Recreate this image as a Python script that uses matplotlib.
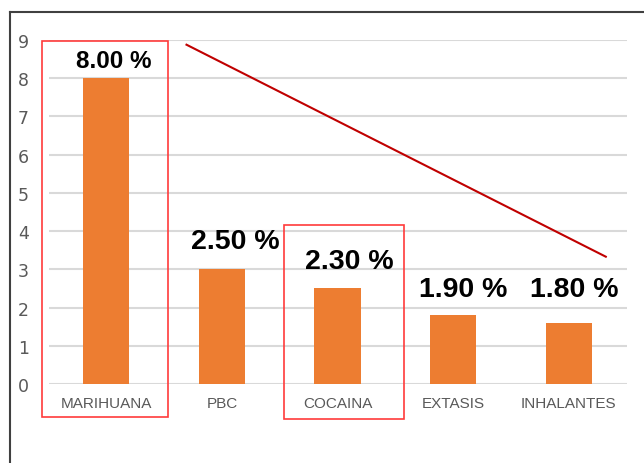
import matplotlib
matplotlib.use("Agg")
import matplotlib.pyplot as plt
from matplotlib.patches import Rectangle
from matplotlib.lines import Line2D

categories = ["MARIHUANA", "PBC", "COCAINA", "EXTASIS", "INHALANTES"]
bar_heights = [8.0, 3.0, 2.5, 1.8, 1.6]
label_texts = ["8.00 %", "2.50 %", "2.30 %", "1.90 %", "1.80 %"]
yticks = list(range(0, 10))

W, H = 644, 464
fig = plt.figure(figsize=(W / 100, H / 100), dpi=100)
fig.patch.set_facecolor("white")

def fx(px):
    return px / W

def fy(py):
    return 1 - py / H

ax = fig.add_axes([fx(48.5), fy(385), fx(626.5) - fx(48.5), fy(41) - fy(385)])
x = list(range(len(categories)))
ax.bar(x, bar_heights, width=0.4, color="#ED7D31", zorder=3)
ax.set_xlim(-0.5, len(categories) - 0.5)
ax.set_ylim(0, 9)
ax.set_yticks(yticks)
ax.set_yticklabels([str(t) for t in yticks], fontsize=12.5, color="#595959", family="DejaVu Sans")
ax.set_xticks(x)
ax.set_xticklabels(categories, fontsize=11, color="#595959", family="Liberation Sans")
ax.tick_params(axis="both", length=0)
ax.tick_params(axis="y", pad=14)
ax.tick_params(axis="x", pad=9)
ax.grid(axis="y", color="#D9D9D9", linewidth=1.5, zorder=0)
for s in ax.spines.values():
    s.set_visible(False)

# value labels (positioned as in reference)
label_pos = [(113.5, 61.7, 17.5),
             (235, 241.7, 20.5),
             (349, 261.7, 20.5),
             (463, 290, 20.5),
             (574, 290, 20.5)]
for t, (px, py, fs) in zip(label_texts, label_pos):
    fig.text(fx(px), fy(py), t, ha="center", va="center", fontsize=fs,
             fontweight="bold", color="black", family=["Liberation Sans", "DejaVu Sans"])

# frame
fig.add_artist(Line2D([fx(9.5), 1.0], [fy(13), fy(13)], color="#404040", lw=1.5))
fig.add_artist(Line2D([fx(9.5), fx(9.5)], [fy(13), 0], color="#404040", lw=1.5))

# red boxes
for (x0, y0, x1, y1) in [(41.5, 41.7, 167.5, 417.7), (284, 225.7, 403.7, 420)]:
    fig.add_artist(Rectangle((fx(x0), fy(y1)), fx(x1) - fx(x0), fy(y0) - fy(y1),
                             fill=False, edgecolor="#FF3B3B", lw=1.2, transform=fig.transFigure))

# red trend line
fig.add_artist(Line2D([fx(186.5), fx(605.8)], [fy(45.7), fy(257.7)], color="#C00000", lw=1.5))

fig.savefig("out.png", dpi=100)
